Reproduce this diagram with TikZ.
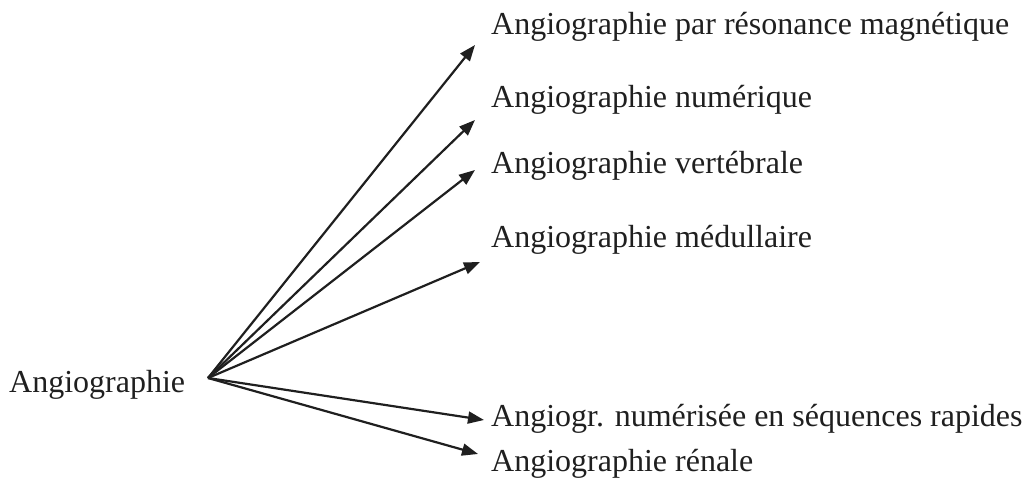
\documentclass[tikz,border=0pt]{standalone}
\usepackage{fontspec}
\setmainfont{Liberation Serif}
\usetikzlibrary{arrows.meta}
\begin{document}
\begin{tikzpicture}[x=1pt,y=-1pt,
  lbl/.style={anchor=west,inner sep=0pt,font=\fontsize{32}{32}\selectfont,text=black!88},
  arr/.style={draw=black!88,line width=2.2pt,-{Triangle[length=16pt,width=12pt]}}]
\useasboundingbox (0,0) rectangle (1026,481);
\node[lbl] (src) at (9,385) {Angiographie};
\node[lbl] (t1) at (491,27) {Angiographie par résonance magnétique};
\node[lbl] (t2) at (491,100) {Angiographie numérique};
\node[lbl] (t3) at (491,166) {Angiographie vertébrale};
\node[lbl] (t4) at (491,240) {Angiographie médullaire};
\node[lbl] (t5) at (491,419) {Angiogr. numérisée en séquences rapides};
\node[lbl] (t6) at (491,464) {Angiographie rénale};
\coordinate (o) at (208,378);
\coordinate (e1) at (475,45);
\coordinate (e2) at (475,120);
\coordinate (e3) at (475,170);
\coordinate (e4) at (480,262);
\coordinate (e5) at (484,420);
\coordinate (e6) at (478,454);
\foreach \i in {1,...,6} \draw[arr] (o) -- (e\i);
\end{tikzpicture}
\end{document}
